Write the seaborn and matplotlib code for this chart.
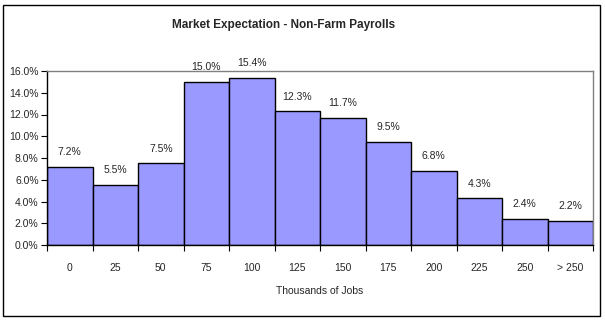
import matplotlib
matplotlib.use("Agg")
import matplotlib.pyplot as plt
import seaborn as sns
import pandas as pd
from matplotlib.patches import Rectangle

categories = ["0", "25", "50", "75", "100", "125", "150", "175", "200", "225", "250", "> 250"]
values = [7.2, 5.5, 7.5, 15.0, 15.4, 12.3, 11.7, 9.5, 6.8, 4.3, 2.4, 2.2]
title = "Market Expectation - Non-Farm Payrolls"
xlabel = "Thousands of Jobs"

sns.set_theme(style="white")
plt.rcParams['font.family'] = ['Liberation Sans', 'DejaVu Sans']

df = pd.DataFrame({"cat": categories, "val": values})

fig = plt.figure(figsize=(6.05, 3.21), dpi=100)
ax = fig.add_axes([47/605, 1-245/321, (593-47)/605, (245-71)/321])

sns.barplot(data=df, x="cat", y="val", ax=ax, color="#9999FF", width=1.0,
            edgecolor="black", linewidth=1.0, saturation=1)

ax.set_xlim(-0.5, len(categories) - 0.5)
ax.set_ylim(0, 16)
ax.set_yticks(range(0, 17, 2))
ax.set_yticklabels([f"{v:.1f}%" for v in range(0, 17, 2)], fontsize=7.5)
ax.set_xticks([i + 0.5 for i in range(-1, len(categories))], minor=False)
ax.set_xticklabels([])
ax.set_xticks(range(len(categories)), minor=True)
ax.set_xticklabels(categories, minor=True, fontsize=7.5)
ax.tick_params(axis="x", which="major", direction="out", length=4, width=0.8, color="black", bottom=True)
ax.tick_params(axis="x", which="minor", length=0, pad=13, bottom=True)
ax.tick_params(axis="y", direction="out", length=4, width=0.8, color="black", left=True, pad=2)

for s in ["left", "bottom"]:
    ax.spines[s].set_color("black")
    ax.spines[s].set_linewidth(1.0)
for s in ["top", "right"]:
    ax.spines[s].set_color("#808080")
    ax.spines[s].set_linewidth(1.0)

for i, v in enumerate(values):
    ax.annotate(f"{v:.1f}%", (i, v), xytext=(0, 7), textcoords="offset points",
                ha="center", va="bottom", fontsize=7.5)

ax.set_xlabel(xlabel, fontsize=7.5, labelpad=9)
ax.set_ylabel("")
fig.text(284/605, 1-25/321, title, ha="center", va="center", fontsize=8.5, fontweight="bold")

fig.patches.append(Rectangle((3/605, 5/321), (600-3)/605, (316-5)/321, transform=fig.transFigure,
                             fill=False, edgecolor="black", linewidth=1.0))

fig.savefig("out.png", dpi=100)
